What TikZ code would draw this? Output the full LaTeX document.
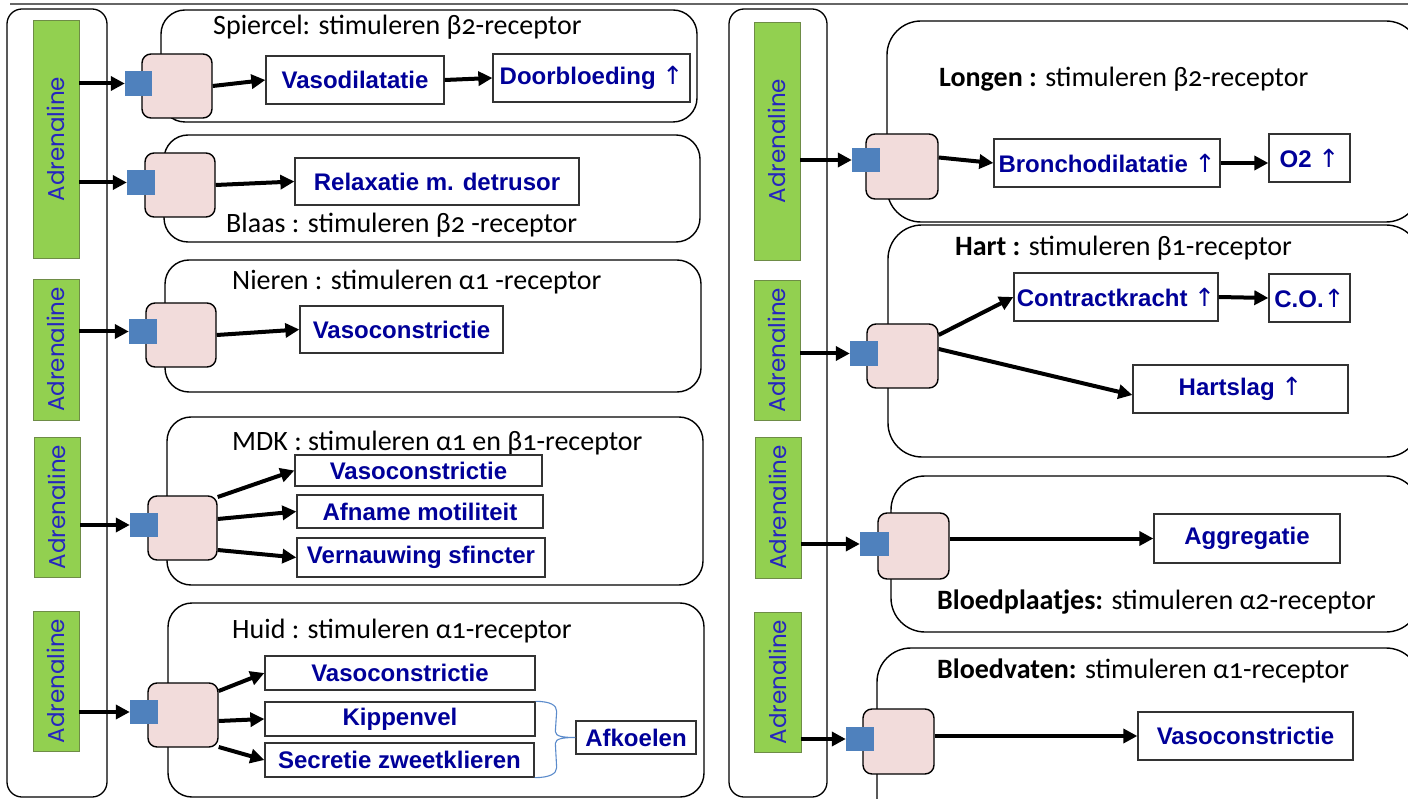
\documentclass[tikz,border=0pt]{standalone}
\usepackage{fontspec}
\setmainfont{Carlito}[Numbers=OldStyle]
\newfontfamily\boxfont{Liberation Sans}
\newfontfamily\adrfont{Poppins}
\newfontfamily\arrfont{DejaVu Sans}
\usetikzlibrary{arrows.meta,fit,calc}

\definecolor{adrgreen}{HTML}{92D050}
\definecolor{adrline}{HTML}{6E8C46}
\definecolor{adrblue}{HTML}{2626BE}
\definecolor{recpink}{HTML}{F2DCDB}
\definecolor{recblue}{HTML}{4F81BD}
\definecolor{effblue}{HTML}{000099}
\definecolor{bracecol}{HTML}{5B8BCB}

\tikzset{
  column/.style={draw, line width=1.3pt, rounded corners=15pt, inner sep=0pt},
  organ/.style={draw, line width=1.4pt, rounded corners=24pt, inner sep=0pt},
  organR/.style={organ, rounded corners=34pt},
  adr/.style={draw=adrline, line width=0.8pt, fill=adrgreen, inner sep=0pt},
  adrtxt/.style={rotate=90, text=adrblue, font=\adrfont\fontsize{23}{26}\selectfont, inner sep=0pt},
  receptor/.style={draw, line width=1.4pt, fill=recpink, rounded corners=9pt, inner sep=0pt},
  site/.style={fill=recblue, inner sep=0pt},
  effect/.style={draw=black!80, line width=1.3pt, fill=white, inner sep=0pt},
  efftxt/.style={inner sep=0pt, text=effblue, font=\boxfont\bfseries\fontsize{24}{28}\selectfont},
  ttl/.style={inner sep=0pt, anchor=base west, font=\fontsize{28}{32}\selectfont},
  arr/.style={line width=4pt, -{Triangle[length=14pt,width=14pt]}},
  brace/.style={draw=bracecol, line width=1.1pt},
}
\newcommand\upar{{\arrfont\mdseries\fontsize{25}{28}\selectfont ↑}}

\begin{document}
\begin{tikzpicture}[x=1pt, y=-1pt]
\useasboundingbox (0,0) rectangle (1408,799);

% rule along the top
\draw[black!60, line width=1.5pt] (10,4) -- (1408,4);

% the two adrenaline columns
\node[column, fit={(7,9) (107,797)}] (colL) {};
\node[column, fit={(729,9) (827,797)}] (colR) {};

% organ panels, left
\node[organ, fit={(161,10) (697,122)}] (p1) {};
\node[organ, fit={(164,135) (700,242)}] (p2) {};
\node[organ, fit={(165,260) (701,392)}] (p3) {};
\node[organ, fit={(167,417) (703,585)}] (p4) {};
\node[organ, fit={(168,603) (704,797)}] (p5) {};
% organ panels, right
\node[organR, fit={(887,21) (1420,222)}] (q1) {};
\node[organR, fit={(888,225) (1420,457)}] (q2) {};
\node[organR, fit={(891,476) (1420,632)}] (q3) {};
\node[organR, fit={(877,648) (1420,840)}] (q4) {};

% adrenaline bars
\node[adr, fit={(33,20) (79,258)}, label={[adrtxt]center:Adrenaline}] (a1) {};
\node[adr, fit={(33,279) (79,420)}, label={[adrtxt]center:Adrenaline}] (a2) {};
\node[adr, fit={(34,437) (80,577)}, label={[adrtxt]center:Adrenaline}] (a3) {};
\node[adr, fit={(33,611) (79,751)}, label={[adrtxt]center:Adrenaline}] (a4) {};
\node[adr, fit={(754,22) (800,260)}, label={[adrtxt]center:Adrenaline}] (a5) {};
\node[adr, fit={(754,280) (800,420)}, label={[adrtxt]center:Adrenaline}] (a6) {};
\node[adr, fit={(755,437) (801,578)}, label={[adrtxt]center:Adrenaline}] (a7) {};
\node[adr, fit={(754,612) (801,752)}, label={[adrtxt]center:Adrenaline}] (a8) {};

% panel titles
\node[ttl] (t1) at (213,35) {Spiercel: stimuleren β2-receptor};
\node[ttl] (t2) at (226,233) {Blaas : stimuleren β2 -receptor};
\node[ttl] (t3) at (232,290) {Nieren : stimuleren α1 -receptor};
\node[ttl] (t4) at (232,450) {MDK : stimuleren α1 en β1-receptor};
\node[ttl] (t5) at (232,638) {Huid : stimuleren α1-receptor};
\node[ttl] (u1) at (939,87) {\textbf{Longen :} stimuleren β2-receptor};
\node[ttl] (u2) at (955,256) {\textbf{Hart :} stimuleren β1-receptor};
\node[ttl] (u3) at (937,609) {\textbf{Bloedplaatjes:} stimuleren α2-receptor};
\node[ttl] (u4) at (937,678) {\textbf{Bloedvaten:} stimuleren α1-receptor};

% receptors
\node[receptor, fit={(142,54) (212,118)}] (r1) {};
\node[receptor, fit={(145,153) (215,217)}] (r2) {};
\node[receptor, fit={(146,303) (216,367)}] (r3) {};
\node[receptor, fit={(148,496) (217,560)}] (r4) {};
\node[receptor, fit={(148,683) (218,747)}] (r5) {};
\node[receptor, fit={(866,134) (938,199)}] (rr1) {};
\node[receptor, fit={(867,324) (938,388)}] (rr2) {};
\node[receptor, fit={(878,513) (949,579)}] (rr3) {};
\node[receptor, fit={(863,709) (934,774)}] (rr4) {};

% binding sites
\node[site, fit={(125,71) (152,96)}] (b1) {};
\node[site, fit={(127,170) (155,195)}] (b2) {};
\node[site, fit={(129,319) (157,344)}] (b3) {};
\node[site, fit={(130,513) (158,537)}] (b4) {};
\node[site, fit={(130,700) (158,724)}] (b5) {};
\node[site, fit={(852,148) (880,172)}] (bb1) {};
\node[site, fit={(850,341) (878,366)}] (bb2) {};
\node[site, fit={(860,532) (889,556)}] (bb3) {};
\node[site, fit={(846,727) (874,751)}] (bb4) {};

% effects
\node[effect, fit={(266,56) (444,104)}, label={[efftxt]center:Vasodilatatie}] (v1) {};
\node[effect, fit={(493,54) (690,102)}, label={[efftxt]center:Doorbloeding \upar}] (d1) {};
\node[effect, fit={(295,158) (579,205)}, label={[efftxt]center:Relaxatie m. detrusor}] (x2) {};
\node[effect, fit={(300,306) (503,353)}, label={[efftxt]center:Vasoconstrictie}] (x3) {};
\node[effect, fit={(295,455) (542,486)}, label={[efftxt]center:Vasoconstrictie}] (m1) {};
\node[effect, fit={(297,495) (543,528)}, label={[efftxt]center:Afname motiliteit}] (m2) {};
\node[effect, fit={(297,538) (545,577)}, label={[efftxt]center:Vernauwing sfincter}] (m3) {};
\node[effect, fit={(265,656) (535,690)}, label={[efftxt]center:Vasoconstrictie}] (h1) {};
\node[effect, fit={(265,702) (535,736)}, label={[efftxt]center:Kippenvel}] (h2) {};
\node[effect, fit={(265,743) (534,777)}, label={[efftxt]center:Secretie zweetklieren}] (h3) {};
\node[effect, fit={(576,721) (696,754)}, label={[efftxt]center:Afkoelen}] (afk) {};
\node[effect, fit={(994,139) (1220,187)}, label={[efftxt]center:Bronchodilatatie \upar}] (bron) {};
\node[effect, fit={(1269,134) (1350,182)}, label={[efftxt]center:O2 \upar}] (o2) {};
\node[effect, fit={(1014,273) (1218,321)}, label={[efftxt]center:Contractkracht \upar}] (con) {};
\node[effect, fit={(1269,274) (1350,322)}, label={[efftxt]center:C.O.\upar}] (co) {};
\node[effect, fit={(1133,365) (1348,413)}, label={[efftxt]center:Hartslag \upar}] (hs) {};
\node[effect, fit={(1154,514) (1340,563)}, label={[efftxt]center:Aggregatie}] (agg) {};
\node[effect, fit={(1138,712) (1353,760)}, label={[efftxt]center:Vasoconstrictie}] (vas) {};

% adrenaline to binding sites
\draw[arr] (a1.east |- b1) -- (b1.west);
\draw[arr] (a1.east |- b2) -- (b2.west);
\draw[arr] (a2.east |- b3) -- (b3.west);
\draw[arr] (a3.east |- b4) -- (b4.west);
\draw[arr] (a4.east |- b5) -- (b5.west);
\draw[arr] (a5.east |- bb1) -- (bb1.west);
\draw[arr] (a6.east |- bb2) -- (bb2.west);
\draw[arr] (a7.east |- bb3) -- (bb3.west);
\draw[arr] (a8.east |- bb4) -- (bb4.west);

% receptors to effects
\draw[arr] (r1.east) -- (v1.west);
\draw[arr] (v1.east) -- (d1.west);
\draw[arr] (r2.east) -- (x2.west);
\draw[arr] (r3.east) -- (x3.west);
\draw[arr] ([yshift=31pt]r4.east) -- (m1.west);
\draw[arr] ([yshift=9pt]r4.east) -- (m2.west);
\draw[arr] ([yshift=-22pt]r4.east) -- (m3.west);
\draw[arr] ([yshift=24pt]r5.east) -- (h1.west);
\draw[arr] ([yshift=-6pt]r5.east) -- (h2.west);
\draw[arr] ([yshift=-32pt]r5.east) -- (h3.west);
\draw[arr] ([yshift=9pt]rr1.east) -- (bron.west);
\draw[arr] (bron.east) -- (o2.west |- bron.east);
\draw[arr] ([yshift=21pt]rr2.east) -- (con.west);
\draw[arr] (con.east) -- (co.west);
\draw[arr] ([yshift=7pt]rr2.east) -- ([yshift=-6pt]hs.west);
\draw[arr] (rr3.east |- agg.west) -- (agg.west);
\draw[arr] (rr4.east |- vas.west) -- (vas.west);

% brace grouping the cooling effects
\coordinate (bt) at ($(h2.north east)+(21,10)$);
\coordinate (bm1) at ($(afk.west)+(-20,-6)$);
\coordinate (bm2) at ($(afk.west)+(-20,6)$);
\coordinate (bb) at ($(h3.south east)+(22,-10)$);
\draw[brace] (h2.north east) .. controls +(15,0) and +(0,-6) .. (bt) -- (bm1)
  .. controls +(0,5) and +(-12,0) .. (afk.west)
  .. controls +(-12,0) and +(0,-5) .. (bm2) -- (bb)
  .. controls +(0,6) and +(15,0) .. (h3.south east);
\end{tikzpicture}
\end{document}
